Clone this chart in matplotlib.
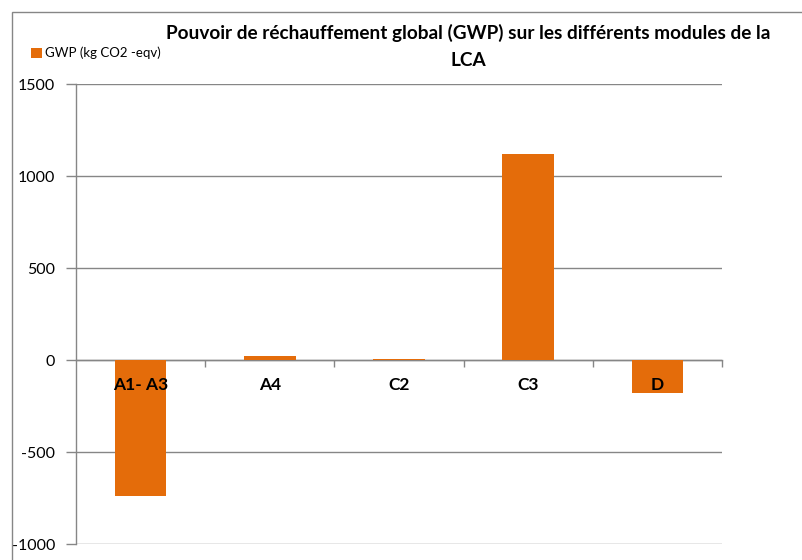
import matplotlib
matplotlib.use("Agg")
import matplotlib.pyplot as plt
from matplotlib.patches import Rectangle
from matplotlib.ticker import FixedLocator, NullFormatter
import matplotlib.transforms as mtransforms

categories = ["A1- A3", "A4", "C2", "C3", "D"]
gwp_values = [-739, 22, 3, 1120, -179]
series_label = "GWP (kg CO2 -eqv)"
title_text = "Pouvoir de réchauffement global (GWP) sur les différents modules de la\nLCA"
yticks = [-1000, -500, 0, 500, 1000, 1500]

FONT = ["Lato", "DejaVu Sans"]
ORANGE = "#E46C0A"
GRAY = "#868686"

W, H = 803, 560
fig = plt.figure(figsize=(W / 100, H / 100), dpi=100)
fig.patch.set_facecolor("white")

# chart-area border
fig.add_artist(Rectangle((12 / W, -0.1), 1.2, (H - 12) / H + 0.1,
                         transform=fig.transFigure, fill=False,
                         edgecolor=GRAY, lw=1.0))

ax = fig.add_axes([76 / W, 16 / H, (722 - 76) / W, (544 - 84) / H])
x = list(range(len(categories)))
ax.bar(x, gwp_values, width=0.4, color=ORANGE, zorder=3, label=series_label)

ax.set_xlim(-0.5, len(categories) - 0.5)
ax.set_ylim(yticks[0], yticks[-1])
ax.set_yticks(yticks)
ax.set_yticklabels([str(v) for v in yticks], family=FONT, fontsize=11.5)
ax.yaxis.grid(True, color=GRAY, lw=1.0, zorder=0)
ax.tick_params(axis="y", direction="out", length=7, color=GRAY, width=1.0, pad=8)

for s in ["top", "right"]:
    ax.spines[s].set_visible(False)
ax.spines["left"].set_color(GRAY)
ax.spines["left"].set_linewidth(1.0)
ax.spines["bottom"].set_position(("data", 0))
ax.spines["bottom"].set_color(GRAY)
ax.spines["bottom"].set_linewidth(1.0)
ax.spines["bottom"].set_zorder(2)

ax.xaxis.set_major_locator(FixedLocator([i + 0.5 for i in x]))
ax.xaxis.set_major_formatter(NullFormatter())
ax.tick_params(axis="x", which="major", direction="out", length=5, color=GRAY, width=1.0)

# category labels drawn above the bars
trans = mtransforms.blended_transform_factory(ax.transData, ax.transAxes)
label_y = (544 - 385) / (544 - 84)
for xi, cat in zip(x, categories):
    ax.text(xi, label_y, cat, transform=trans, ha="center", va="center",
            family=FONT, fontsize=12.5, fontweight="bold", zorder=5)

fig.text(468 / W, 1 - 46.5 / H, title_text, ha="center", va="center",
         family=FONT, fontsize=13.7, fontweight="bold", linespacing=1.68)

leg = fig.legend(loc="center left", bbox_to_anchor=(31 / W, 1 - 53 / H),
                 frameon=False, prop={"family": FONT, "size": 9.5},
                 handlelength=0.8, handleheight=0.8, handletextpad=0.25,
                 borderpad=0, borderaxespad=0)

fig.savefig("out.png", dpi=100, facecolor="white")
